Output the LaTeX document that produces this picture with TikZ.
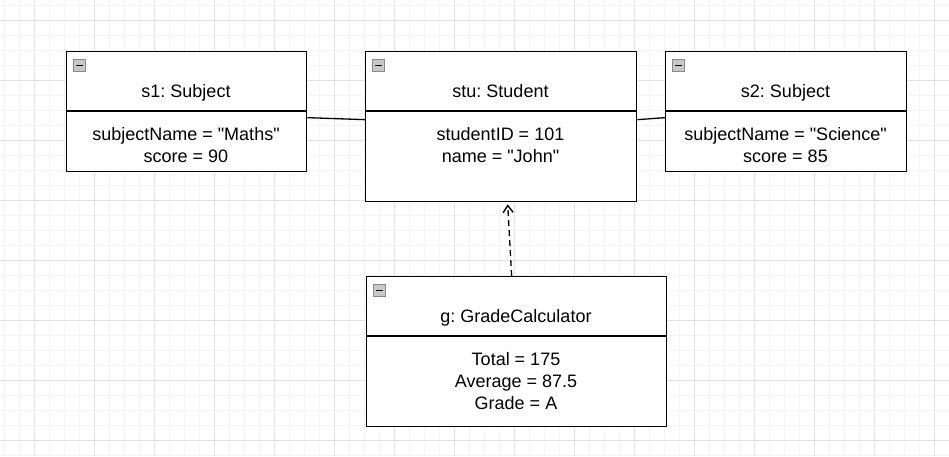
\documentclass[tikz,border=0pt]{standalone}
\usepackage{fontspec}
\setmainfont{Liberation Sans}[Ligatures=TeXOff]
\usetikzlibrary{arrows.meta}
\definecolor{gridminor}{HTML}{F3F3F3}
\definecolor{gridmajor}{HTML}{E2E2E2}
\definecolor{iconfill}{HTML}{C8C8C8}
\definecolor{iconborder}{HTML}{8A8A8A}
\tikzset{
  objbox/.style={draw=black, line width=1.3pt, fill=white, rectangle, anchor=north west, inner sep=0pt},
  txt/.style={font=\fontsize{18}{22}\selectfont\frenchspacing, inner sep=0pt, anchor=base},
  icon/.style={draw=iconborder, fill=iconfill, line width=0.8pt, minimum size=12.5pt, inner sep=0pt, rectangle},
  conn/.style={draw=black, line width=1.3pt},
}
\begin{document}
\begin{tikzpicture}[x=1pt,y=-1pt]
\useasboundingbox (0,0) rectangle (949,456);
\fill[white] (0,0) rectangle (949,456);
% grid
\foreach \x in {4,19,...,949} \draw[gridminor, line width=0.8pt] (\x,0) -- (\x,456);
\foreach \y in {5,20,...,456} \draw[gridminor, line width=0.8pt] (0,\y) -- (949,\y);
\foreach \x in {34,94,...,949} \draw[gridmajor, line width=0.9pt] (\x,0) -- (\x,456);
\foreach \y in {20,80,...,456} \draw[gridmajor, line width=0.9pt] (0,\y) -- (949,\y);

% boxes
\node[objbox, minimum width=240pt, minimum height=120pt] (s1) at (66,51) {};
\node[objbox, minimum width=271pt, minimum height=150pt] (stu) at (365,51) {};
\node[objbox, minimum width=241pt, minimum height=120pt] (s2) at (665,51) {};
\node[objbox, minimum width=300pt, minimum height=150pt] (g) at (366,276) {};

% dividers
\coordinate (s1d) at (66,111); \draw[conn] (s1d) -- (306,111);
\coordinate (stud) at (365,111); \draw[conn] (stud) -- (636,111);
\coordinate (s2d) at (665,111); \draw[conn] (s2d) -- (906,111);
\coordinate (gd) at (366,336); \draw[conn] (gd) -- (666,336);

% icons
\node[icon] (i1) at (79.5,65.5) {};
\node[icon] (i2) at (378.5,65.5) {};
\node[icon] (i3) at (678.5,65.5) {};
\node[icon] (i4) at (379.5,290.5) {};
\foreach \i in {i1,i2,i3,i4} \draw[black, line width=1.4pt] ([xshift=-3.5pt]\i.center) -- ([xshift=3.5pt]\i.center);

% titles
\node[txt] (t1) at (186,97) {s1: Subject};
\node[txt] (t2) at (500.5,97) {stu: Student};
\node[txt] (t3) at (785.5,97) {s2: Subject};
\node[txt] (t4) at (516,322) {g: GradeCalculator};

% bodies
\node[txt] (b1a) at (186,140) {subjectName = "Maths"};
\node[txt] (b1b) at (186,162) {score = 90};
\node[txt] (b2a) at (500.5,140) {studentID = 101};
\node[txt] (b2b) at (500.5,162) {name = "John"};
\node[txt] (b3a) at (785.5,140) {subjectName = "Science"};
\node[txt] (b3b) at (785.5,162) {score = 85};
\node[txt] (b4a) at (516,365) {Total = 175};
\node[txt] (b4b) at (516,387) {Average = 87.5};
\node[txt] (b4c) at (516,409) {Grade = A};

% connectors
\draw[conn] ([yshift=-6pt]s1.east) -- ([yshift=7pt]stu.west);
\draw[conn] ([yshift=7pt]stu.east) -- ([yshift=-6pt]s2.west);
\draw[conn, dash pattern=on 6pt off 4pt, -{Straight Barb[length=7pt,width=10pt,line width=1.4pt]}] ([xshift=-5pt]g.north) -- ([xshift=6.5pt,yshift=-2pt]stu.south);
\end{tikzpicture}
\end{document}
